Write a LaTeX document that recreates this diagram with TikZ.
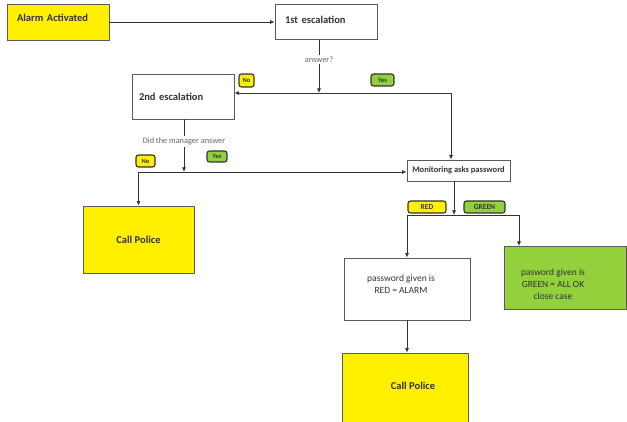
\documentclass[tikz,border=0pt]{standalone}
\usepackage{fontspec}
\setmainfont{Carlito}
\usetikzlibrary{arrows.meta}

\definecolor{alarmyellow}{HTML}{FFF000}
\definecolor{okgreen}{HTML}{92D03C}
\definecolor{boxline}{HTML}{5A5A5A}
\definecolor{inktext}{HTML}{333333}

\tikzset{
  box/.style={draw=boxline, line width=0.8pt, inner sep=0pt, text=inktext},
  boxfont/.style={font=\bfseries\fontsize{10.5}{12.5}\selectfont},
  boxtext/.style={align=center, text=inktext, font=\fontsize{9.5}{12}\selectfont},
  lbl/.style={fill=white, inner sep=1.5pt, text=black!60, font=\fontsize{8.3}{10}\selectfont},
  badge/.style={draw=inktext, line width=1.1pt, rounded corners=2.5pt, inner sep=0.5pt,
    text=inktext, font=\bfseries\fontsize{6.5}{7}\selectfont},
  flow/.style={draw=inktext, line width=0.8pt}
}

\begin{document}
\begin{tikzpicture}[x=1pt, y=-1pt, >={Latex[length=4.5pt,width=4pt]}]
            \useasboundingbox (0,0) rectangle (627,422);

            \node[box, boxfont, fill=alarmyellow, minimum width=102, minimum height=36,
                  text width=82, align=left, text depth=8pt] (alarm) at (58,22) {Alarm Activated};
            \node[box, boxfont, minimum width=102, minimum height=35,
                  text width=82, align=left, text depth=5pt] (esc1) at (326,22) {1st escalation};
            \node[box, boxfont, minimum width=102, minimum height=45,
                  text width=88, align=left] (esc2) at (183,96.5) {2nd escalation};
            \node[box, boxfont, fill=alarmyellow, minimum width=111, minimum height=67] (police1) at (138.5,239.5) {Call Police};
            \node[box, font=\bfseries\fontsize{8.5}{10}\selectfont, minimum width=103, minimum height=21] (mon) at (458.5,170.5) {Monitoring asks password};
            \node[box, minimum width=126, minimum height=62] (red) at (407,289) {};
            \node[boxtext] (redtxt) at (401,284) {password given is\\RED = ALARM};
            \node[box, fill=okgreen, minimum width=122, minimum height=63] (green) at (565,277.5) {};
            \node[boxtext] (greentxt) at (553,284) {pasword given is\\GREEN = ALL OK\\close case};
            \node[box, fill=alarmyellow, minimum width=126, minimum height=71] (police2) at (405,388.5) {};
            \node[boxfont, text=inktext] (police2txt) at (413,386) {Call Police};

            \node[badge, fill=alarmyellow, minimum width=15, minimum height=13] (no1) at (246.5,80.5) {No};
            \node[badge, fill=okgreen, minimum width=23, minimum height=12] (yes1) at (382.5,80) {Yes};
            \node[badge, fill=alarmyellow, minimum width=19, minimum height=12] (no2) at (145.5,161) {No};
            \node[badge, fill=okgreen, minimum width=20, minimum height=11] (yes2) at (217,156.5) {Yes};
            \node[badge, fill=alarmyellow, minimum width=38, minimum height=12,
                  font=\bfseries\fontsize{7.5}{8}\selectfont] (redtag) at (427,207) {RED};
            \node[badge, fill=okgreen, minimum width=41, minimum height=12,
                  font=\bfseries\fontsize{7.5}{8}\selectfont] (greentag) at (484.5,207) {GREEN};

            \coordinate (j1) at (319,93);
            \coordinate (j1r) at (451,93);
            \coordinate (j2) at (184,172);
            \coordinate (j3) at (454,215);
            \coordinate (gtop) at (519,246);

            \draw[flow, ->] (alarm) to (esc1);
            \draw[flow, ->] (esc1.south -| j1) to node[lbl, pos=0.37] {answer?} (j1);
            \draw[flow, ->] (j1r) to (j1 -| esc2.east);
            \draw[flow, ->] (j1r) to (j1r |- mon.north);
            \draw[flow, ->] (esc2.south -| j2) to node[lbl, pos=0.42] {Did the manager answer} (j2);
            \draw[flow, ->] (j2) to (j2 -| mon.west);
            \draw[flow, ->] (j2) -| (police1.north);
            \draw[flow, ->] (mon.south -| j3) to (j3);
            \draw[flow, ->] (j3) -| (red.north);
            \draw[flow, ->] (j3) -| (gtop);
            \draw[flow, ->] (red.south) to (red.south |- police2.north);
        \end{tikzpicture}
\end{document}
